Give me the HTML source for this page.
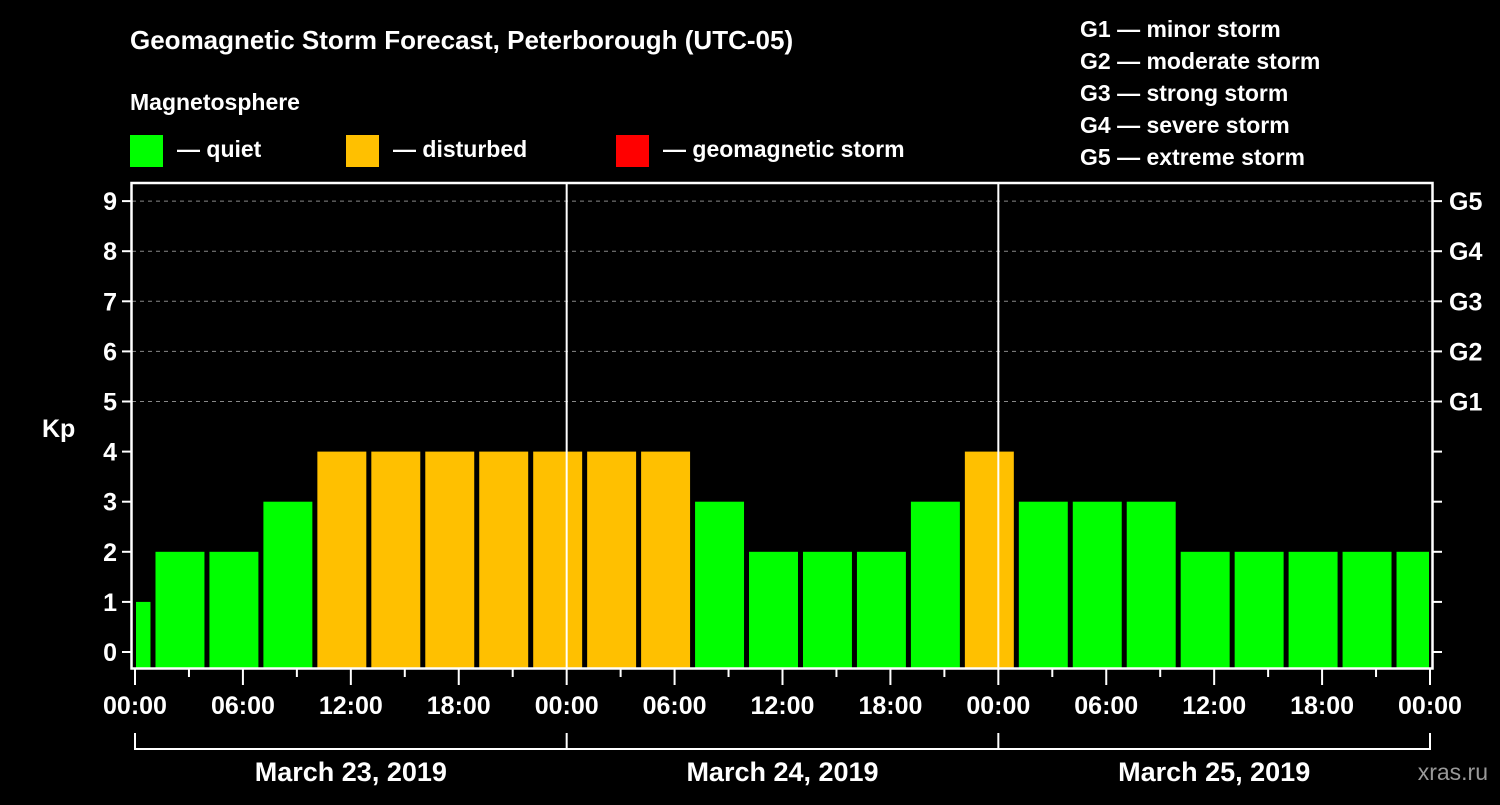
<!DOCTYPE html>
<html><head><meta charset="utf-8"><style>
body{margin:0;background:#000;width:1500px;height:800px;overflow:hidden;font-family:"Liberation Sans",sans-serif}
svg text{font-family:"Liberation Sans",sans-serif;font-weight:bold;fill:#fff}
</style></head><body>
<svg id="c" width="1500" height="800" xmlns="http://www.w3.org/2000/svg">
<text x="130" y="49" font-size="26">Geomagnetic Storm Forecast, Peterborough (UTC-05)</text>
<text x="130" y="110" font-size="23">Magnetosphere</text>
<rect x="130" y="135" width="33" height="32" fill="#00ff00"/>
<text x="177" y="157" font-size="23">— quiet</text>
<rect x="346" y="135" width="33" height="32" fill="#ffc000"/>
<text x="393" y="157" font-size="23">— disturbed</text>
<rect x="616" y="135" width="33" height="32" fill="#ff0000"/>
<text x="663" y="157" font-size="23">— geomagnetic storm</text>
<g font-size="23">
<text x="1080" y="37">G1 — minor storm</text>
<text x="1080" y="69">G2 — moderate storm</text>
<text x="1080" y="101">G3 — strong storm</text>
<text x="1080" y="133">G4 — severe storm</text>
<text x="1080" y="165">G5 — extreme storm</text>
</g>
<g id="plot"></g>
<text x="1488" y="780" font-size="23" text-anchor="end" fill="#888" style="fill:#999;font-weight:normal">xras.ru</text>
</svg>
<script>
const kpValues=[1,2,2,3,4,4,4,4,4,4,4,3,2,2,2,3,4,3,3,3,2,2,2,2,2];
const barStartHours=[0,1,4,7,10,13,16,19,22,25,28,31,34,37,40,43,46,49,52,55,58,61,64,67,70];
const barEndHours=[1,4,7,10,13,16,19,22,25,28,31,34,37,40,43,46,49,52,55,58,61,64,67,70,72];
const xTickLabels=["00:00","06:00","12:00","18:00","00:00","06:00","12:00","18:00","00:00","06:00","12:00","18:00","00:00"];
const yTickLabels=["0","1","2","3","4","5","6","7","8","9"];
const gLabels=["G1","G2","G3","G4","G5"];
const dayLabels=["March 23, 2019","March 24, 2019","March 25, 2019"];
const NS="http://www.w3.org/2000/svg";
const g=document.getElementById('plot');
const X=h=>135+h*(1295/72);
const Y=v=>652-v*50.1;
function mk(t,a){const e=document.createElementNS(NS,t);for(const k in a)e.setAttribute(k,a[k]);g.appendChild(e);return e;}
for(let v=5;v<=9;v++){const l=mk('line',{x1:132,x2:1432,y1:Y(v),y2:Y(v),stroke:'#888','stroke-dasharray':'4,4','stroke-width':1});

}
kpValues.forEach((v,i)=>{const x1=X(barStartHours[i])+(i==0?1:2.5),x2=X(barEndHours[i])-(i==kpValues.length-1?1:2.5);
const col=v>=5?'#ff0000':(v>=4?'#ffc000':'#00ff00');
const r=mk('rect',{x:x1,y:Y(v),width:x2-x1,height:668-Y(v),fill:col});

});
const fr=mk('rect',{x:131.5,y:183,width:1301,height:485.5,fill:'none',stroke:'#fff','stroke-width':2.5});


[24,48].forEach(h=>{const l=mk('line',{x1:X(h),x2:X(h),y1:183,y2:668,stroke:'#fff','stroke-width':2});

});
yTickLabels.forEach((s,v)=>{mk('line',{x1:122,x2:131,y1:Y(v),y2:Y(v),stroke:'#fff','stroke-width':2});
const t=mk('text',{x:117,y:Y(v)+9,'font-size':25,'text-anchor':'end'});t.textContent=s;


mk('line',{x1:1433,x2:1442,y1:Y(v),y2:Y(v),stroke:'#fff','stroke-width':2});});
gLabels.forEach((s,i)=>{const t=mk('text',{x:1449,y:Y(5+i)+9,'font-size':25});t.textContent=s;

});
const kp=mk('text',{x:42,y:437,'font-size':25});kp.textContent='Kp';


for(let h=0;h<=72;h+=3){const major=h%6==0;mk('line',{x1:X(h),x2:X(h),y1:669,y2:major?685:677,stroke:'#fff','stroke-width':2});}
xTickLabels.forEach((s,i)=>{const t=mk('text',{x:X(i*6),y:714,'font-size':25,'text-anchor':'middle'});t.textContent=s;

});
mk('line',{x1:X(0),x2:X(72),y1:749,y2:749,stroke:'#fff','stroke-width':2});
[0,24,48,72].forEach(h=>mk('line',{x1:X(h),x2:X(h),y1:733,y2:750,stroke:'#fff','stroke-width':2}));
dayLabels.forEach((s,i)=>{const t=mk('text',{x:X(i*24+12),y:781,'font-size':27,'text-anchor':'middle'});t.textContent=s;

});
</script>
</body></html>
